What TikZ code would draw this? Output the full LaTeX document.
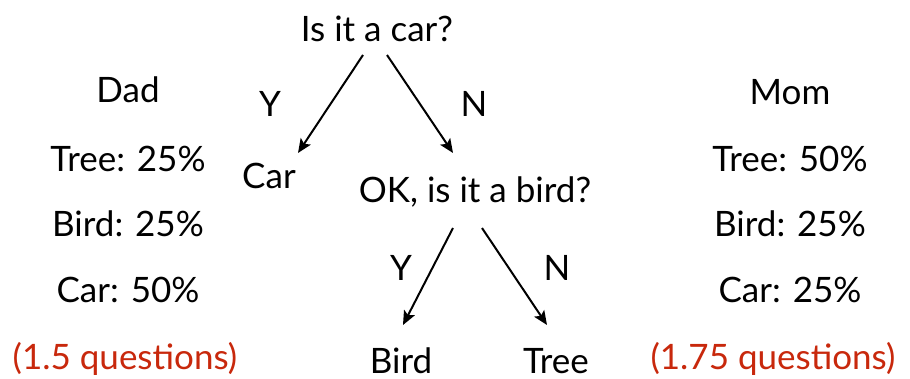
\documentclass[tikz,border=0pt]{standalone}
\usepackage{fontspec}
\setmainfont{Lato}
\usetikzlibrary{arrows.meta,calc}
\definecolor{qred}{RGB}{200,40,12}
\begin{document}
\begin{tikzpicture}[x=1pt,y=-1pt,
  lbl/.style={anchor=base,inner sep=0pt,font=\fontsize{35}{38}\selectfont},
  red/.style={lbl,text=qred},
  arr/.style={line width=2pt,-{Stealth[length=14pt,width=12pt,inset=3pt]}}]
\useasboundingbox (0,0) rectangle (910,379);
\node[lbl] (q1) at (377,42) {Is it a car?};
\node[lbl] (y1) at (270,117) {Y};
\node[lbl] (n1) at (474,117) {N};
\node[lbl] (car) at (269,189) {Car};
\node[lbl] (q2) at (475,203) {OK, is it a bird?};
\node[lbl] (y2) at (401,280) {Y};
\node[lbl] (n2) at (557,280) {N};
\node[lbl] (bird) at (401,373) {Bird};
\node[lbl] (tree) at (556,373) {Tree};
\draw[arr] ($(q1.base)+(-14,13)$) -- ($(car.base)+(29,-36)$);
\draw[arr] ($(q1.base)+(10,13)$) -- ($(q2.base)+(-22,-50)$);
\draw[arr] ($(q2.base)+(-22,25)$) -- ($(bird.base)+(2,-48)$);
\draw[arr] ($(q2.base)+(7,25)$) -- ($(tree.base)+(-9,-48)$);
\node[lbl] (dad) at (128,103) {Dad};
\node[lbl] (dt) at (128,172) {Tree: 25\%};
\node[lbl] (db) at (128,237) {Bird: 25\%};
\node[lbl] (dc) at (128,302) {Car: 50\%};
\node[red] (dq) at (125,369) {(1.5 questions)};
\node[lbl] (mom) at (790,105) {Mom};
\node[lbl] (mt) at (790,172) {Tree: 50\%};
\node[lbl] (mb) at (790,237) {Bird: 25\%};
\node[lbl] (mc) at (790,302) {Car: 25\%};
\node[red] (mq) at (773,369) {(1.75 questions)};
\end{tikzpicture}
\end{document}
